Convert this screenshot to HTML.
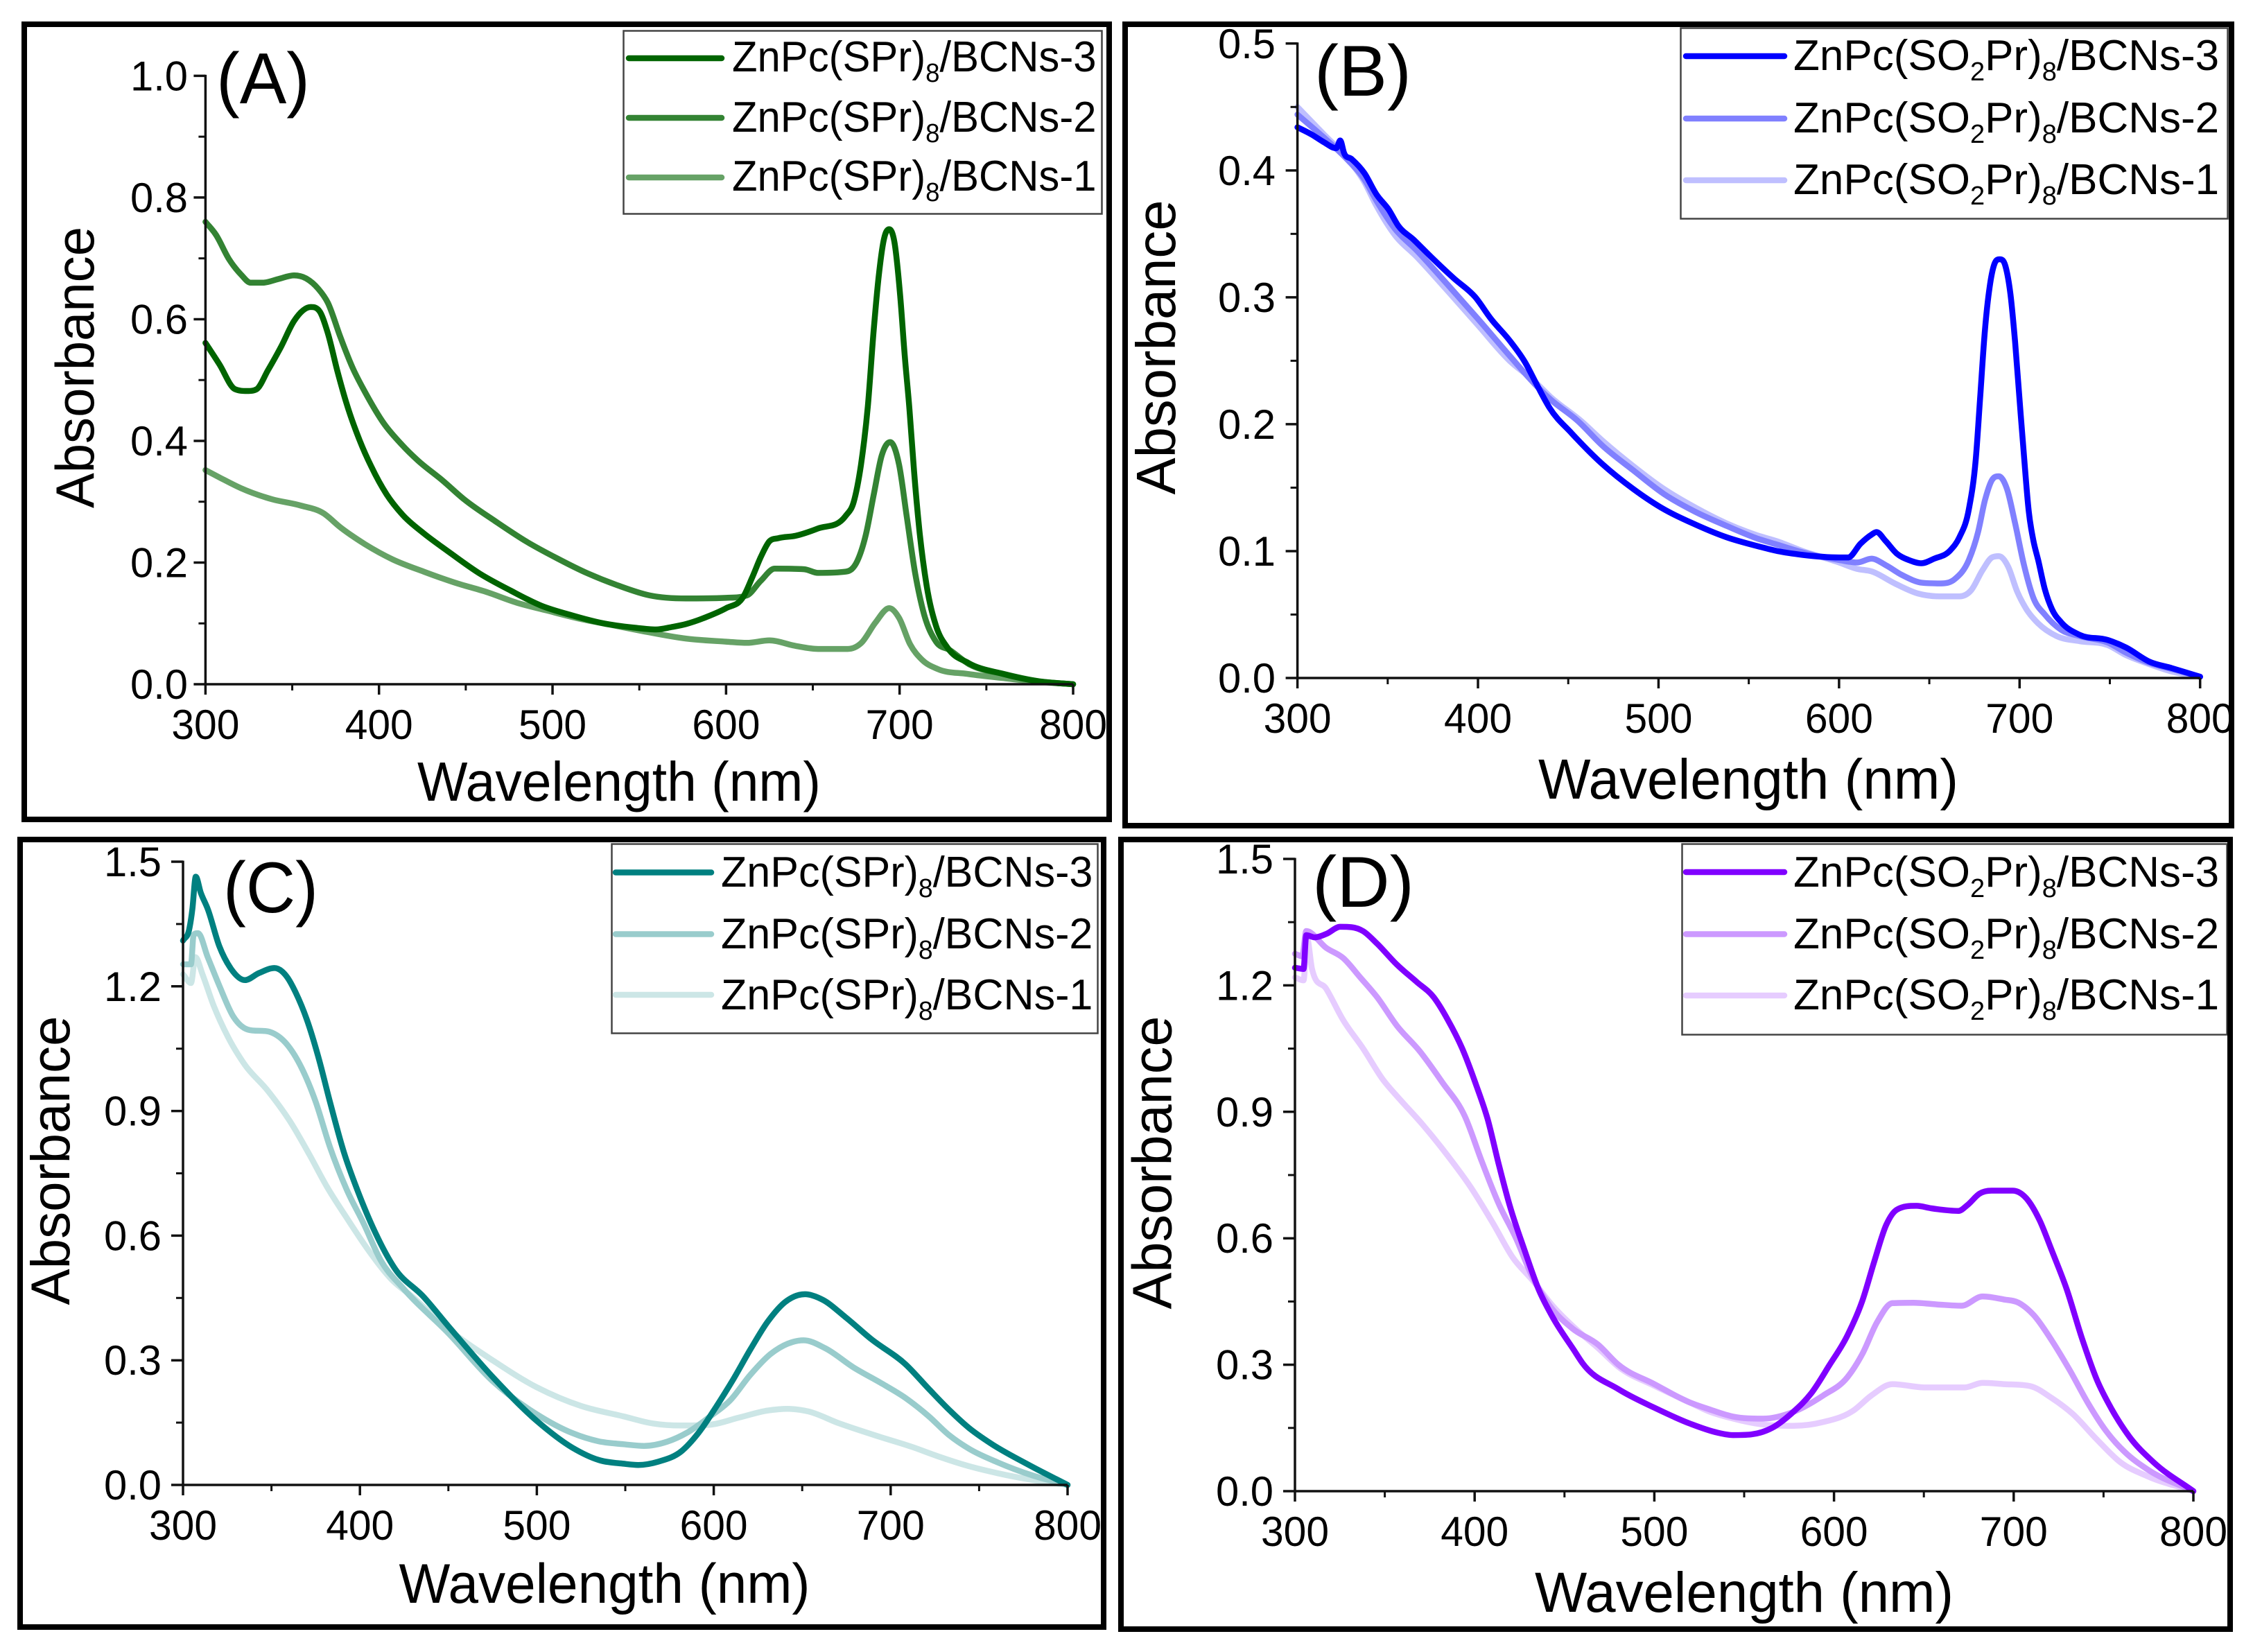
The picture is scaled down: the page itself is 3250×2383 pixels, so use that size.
<!DOCTYPE html>
<html><head><meta charset="utf-8"><title>Absorbance spectra</title>
<style>
html,body{margin:0;padding:0;background:#fff}
svg{display:block}
text{font-family:"Liberation Sans",sans-serif;fill:#000}
</style></head>
<body>
<svg id="fig" xmlns="http://www.w3.org/2000/svg" width="3250" height="2383" viewBox="0 0 3250 2383">
<rect width="3250" height="2383" fill="#fff"/>
<g id="plots"></g>

<g>
<text x="312" y="149" font-size="104" textLength="135" lengthAdjust="spacingAndGlyphs">(A)</text>
<text x="893" y="1155" font-size="80" text-anchor="middle" textLength="582" lengthAdjust="spacingAndGlyphs">Wavelength (nm)</text>
<text transform="translate(135 530) rotate(-90)" font-size="78" text-anchor="middle" textLength="406" lengthAdjust="spacingAndGlyphs">Absorbance</text>
<rect x="899.5" y="44.5" width="690" height="264" fill="#fff" stroke="#444" stroke-width="2.5"/>
<line x1="907" x2="1041" y1="84" y2="84" stroke="#006400" stroke-width="8.5" stroke-linecap="round"/>
<line x1="907" x2="1041" y1="170" y2="170" stroke="#338333" stroke-width="8.5" stroke-linecap="round"/>
<line x1="907" x2="1041" y1="256" y2="256" stroke="#66a266" stroke-width="8.5" stroke-linecap="round"/>
<text transform="translate(1056 103) scale(.965 1)" font-size="62">ZnPc(SPr)<tspan font-size="38" dy="15">8</tspan><tspan dy="-15">/BCNs-3</tspan></text>
<text transform="translate(1056 190) scale(.965 1)" font-size="62">ZnPc(SPr)<tspan font-size="38" dy="15">8</tspan><tspan dy="-15">/BCNs-2</tspan></text>
<text transform="translate(1056 275) scale(.965 1)" font-size="62">ZnPc(SPr)<tspan font-size="38" dy="15">8</tspan><tspan dy="-15">/BCNs-1</tspan></text>
</g>

<g>
<text x="1896" y="138" font-size="104" textLength="140" lengthAdjust="spacingAndGlyphs">(B)</text>
<text x="2522" y="1152" font-size="82" text-anchor="middle" textLength="606" lengthAdjust="spacingAndGlyphs">Wavelength (nm)</text>
<text transform="translate(1695 501) rotate(-90)" font-size="80" text-anchor="middle" textLength="425" lengthAdjust="spacingAndGlyphs">Absorbance</text>
<rect x="2424.5" y="40.5" width="789" height="275" fill="#fff" stroke="#444" stroke-width="2.5"/>
<line x1="2432" x2="2574" y1="81" y2="81" stroke="#0000ff" stroke-width="8.5" stroke-linecap="round"/>
<line x1="2432" x2="2574" y1="171" y2="171" stroke="#8080ff" stroke-width="8.5" stroke-linecap="round"/>
<line x1="2432" x2="2574" y1="260" y2="260" stroke="#bfbfff" stroke-width="8.5" stroke-linecap="round"/>
<text x="2587" y="101" font-size="62">ZnPc(SO<tspan font-size="38" dy="15">2</tspan><tspan dy="-15">Pr)</tspan><tspan font-size="38" dy="15">8</tspan><tspan dy="-15">/BCNs-3</tspan></text>
<text x="2587" y="191" font-size="62">ZnPc(SO<tspan font-size="38" dy="15">2</tspan><tspan dy="-15">Pr)</tspan><tspan font-size="38" dy="15">8</tspan><tspan dy="-15">/BCNs-2</tspan></text>
<text x="2587" y="280" font-size="62">ZnPc(SO<tspan font-size="38" dy="15">2</tspan><tspan dy="-15">Pr)</tspan><tspan font-size="38" dy="15">8</tspan><tspan dy="-15">/BCNs-1</tspan></text>
</g>

<g>
<text x="322" y="1316" font-size="104" textLength="137" lengthAdjust="spacingAndGlyphs">(C)</text>
<text x="872" y="2312" font-size="81" text-anchor="middle" textLength="593" lengthAdjust="spacingAndGlyphs">Wavelength (nm)</text>
<text transform="translate(100 1674) rotate(-90)" font-size="79" text-anchor="middle" textLength="417" lengthAdjust="spacingAndGlyphs">Absorbance</text>
<rect x="882.5" y="1217.5" width="701" height="273" fill="#fff" stroke="#444" stroke-width="2.5"/>
<line x1="888" x2="1026" y1="1258.5" y2="1258.5" stroke="#008080" stroke-width="8.5" stroke-linecap="round"/>
<line x1="888" x2="1026" y1="1347.5" y2="1347.5" stroke="#99cccc" stroke-width="8.5" stroke-linecap="round"/>
<line x1="888" x2="1026" y1="1435" y2="1435" stroke="#cce6e6" stroke-width="8.5" stroke-linecap="round"/>
<text transform="translate(1040 1279) scale(.985 1)" font-size="62">ZnPc(SPr)<tspan font-size="38" dy="15">8</tspan><tspan dy="-15">/BCNs-3</tspan></text>
<text transform="translate(1040 1368) scale(.985 1)" font-size="62">ZnPc(SPr)<tspan font-size="38" dy="15">8</tspan><tspan dy="-15">/BCNs-2</tspan></text>
<text transform="translate(1040 1456) scale(.985 1)" font-size="62">ZnPc(SPr)<tspan font-size="38" dy="15">8</tspan><tspan dy="-15">/BCNs-1</tspan></text>
</g>

<g>
<text x="1893" y="1308" font-size="104" textLength="147" lengthAdjust="spacingAndGlyphs">(D)</text>
<text x="2516" y="2325" font-size="82" text-anchor="middle" textLength="604" lengthAdjust="spacingAndGlyphs">Wavelength (nm)</text>
<text transform="translate(1689.5 1677) rotate(-90)" font-size="80" text-anchor="middle" textLength="423" lengthAdjust="spacingAndGlyphs">Absorbance</text>
<rect x="2426.5" y="1217.5" width="786" height="275" fill="#fff" stroke="#444" stroke-width="2.5"/>
<line x1="2432" x2="2574" y1="1258" y2="1258" stroke="#8000ff" stroke-width="8.5" stroke-linecap="round"/>
<line x1="2432" x2="2574" y1="1347.5" y2="1347.5" stroke="#cc99ff" stroke-width="8.5" stroke-linecap="round"/>
<line x1="2432" x2="2574" y1="1436" y2="1436" stroke="#e6ccff" stroke-width="8.5" stroke-linecap="round"/>
<text x="2587" y="1279" font-size="62">ZnPc(SO<tspan font-size="38" dy="15">2</tspan><tspan dy="-15">Pr)</tspan><tspan font-size="38" dy="15">8</tspan><tspan dy="-15">/BCNs-3</tspan></text>
<text x="2587" y="1368" font-size="62">ZnPc(SO<tspan font-size="38" dy="15">2</tspan><tspan dy="-15">Pr)</tspan><tspan font-size="38" dy="15">8</tspan><tspan dy="-15">/BCNs-2</tspan></text>
<text x="2587" y="1456" font-size="62">ZnPc(SO<tspan font-size="38" dy="15">2</tspan><tspan dy="-15">Pr)</tspan><tspan font-size="38" dy="15">8</tspan><tspan dy="-15">/BCNs-1</tspan></text>
</g>

<rect x="35" y="35" width="1565" height="1147" fill="none" stroke="#000" stroke-width="8"/>
<rect x="1623" y="35" width="1596" height="1156" fill="none" stroke="#000" stroke-width="8"/>
<rect x="29" y="1211" width="1563" height="1136" fill="none" stroke="#000" stroke-width="8"/>
<rect x="1617" y="1211" width="1600" height="1139" fill="none" stroke="#000" stroke-width="8"/>
</svg>

<script>
// Tick labels
const xTickLabels = ['300','400','500','600','700','800'];
const yTickLabelsA = ['0.0','0.2','0.4','0.6','0.8','1.0'];
const yTickLabelsB = ['0.0','0.1','0.2','0.3','0.4','0.5'];
const yTickLabelsC = ['0.0','0.3','0.6','0.9','1.2','1.5'];
const yTickLabelsD = ['0.0','0.3','0.6','0.9','1.2','1.5'];

// Panel A
const nmA3 = [300,308,317,324,329.5,335.8,343.8,351,360.7,366,370.5,376,381,388.4,395.5,404.4,413.4,425.8,440,458,475.8,493.6,511.5,529.3,547,559.6,568.6,577,590,600,610,615,620,625,630,640,653,669,673.6,677.7,681.7,685,688,691,694,697,700.3,703,705.7,708.3,711.6,715.6,721,727.6,739.6,759.6,779.5,800];
const absA3 = [.561,.526,.485,.482,.485,.515,.556,.597,.62,.612,.577,.515,.464,.404,.358,.312,.279,.248,.218,.182,.154,.129,.113,.1,.093,.09,.094,.099,.112,.125,.144,.175,.209,.235,.24,.244,.256,.277,.3,.36,.457,.579,.671,.732,.748,.727,.64,.539,.452,.351,.248,.162,.096,.06,.035,.017,.005,0];
const nmA2 = [300,306,313.5,320.6,326,333,342,351,358,365,370.5,377.7,384.8,392,402.7,413.4,422.3,436.6,449,467,484.7,502.6,520.4,538,556,577,600,612,620,628,645,653,669,675.7,680.4,685,689.7,694.6,699.7,704.2,709,714,721,729,740,760,780,800];
const absA2 = [.76,.739,.699,.673,.66,.66,.666,.672,.667,.65,.627,.571,.52,.48,.429,.393,.368,.335,.304,.268,.235,.207,.182,.162,.146,.141,.142,.146,.17,.19,.189,.183,.185,.203,.244,.31,.376,.398,.361,.274,.182,.116,.07,.056,.033,.017,.005,0];
const nmA1 = [300,308,320.6,338.4,354.5,368,377.7,392,408,425.8,443.7,461.5,479.4,497,515,533,550.7,577,600,612,625,640,653,670,678,686,694,699.7,706,713,722,739,760,780,800];
const absA1 = [.352,.34,.322,.304,.294,.281,.258,.23,.205,.185,.167,.152,.134,.121,.108,.098,.088,.075,.07,.068,.072,.063,.058,.058,.068,.101,.125,.109,.066,.04,.025,.017,.01,.004,0];

// Panel B
const nmB3 = [300,307.8,314.6,321.5,323.7,325.8,330,337,343.8,350.6,355.8,364.3,374.6,386.6,398.6,407.2,417.5,426,433,439.8,451.8,468.9,486,503,520.3,537.5,554.6,566,580,600,605,612,618,620.7,625.8,632,638.6,645.6,652.7,661.6,666.7,671.9,675.7,678.3,680.8,683.4,686,689,692.3,694.9,697.5,700,702.6,705.1,707.7,710.3,714,718,723,733.3,748.7,759,771.7,784.5,800];
const absB3 = [.434,.4284,.4223,.4175,.4236,.4138,.409,.398,.381,.369,.3565,.3455,.331,.315,.3,.283,.266,.249,.23,.2125,.193,.1686,.149,.133,.121,.111,.104,.1,.097,.095,.095,.106,.113,.115,.108,.098,.093,.0904,.094,.1006,.111,.133,.172,.224,.274,.308,.326,.33,.324,.303,.265,.219,.172,.131,.108,.093,.07,.054,.044,.034,.03,.024,.013,.0077,.001];
const nmB2 = [300,314.6,326.6,337,343.8,354,366,383.2,400,417.5,431.2,439.8,455.2,469,486,503,520.3,537.5,554.6,566,580,600,610,618,625.8,634.7,646.3,656.5,664.2,671.9,677,680.8,684.7,688.5,693,697.5,702.6,707.7,714,723,733.3,748.7,759,771.7,784.5,800];
const absB2 = [.444,.426,.41,.393,.376,.354,.337,.31,.283,.254,.232,.22,.2027,.183,.1637,.145,.131,.12,.11,.105,.099,.093,.091,.094,.089,.0813,.075,.0745,.078,.093,.115,.14,.156,.159,.149,.122,.088,.063,.05,.038,.033,.028,.02,.012,.007,.001];
const nmB1 = [300,314.6,326.6,337,343.8,354,366,383.2,400,417.5,431.2,439.8,457,469,486,503,520.3,537.5,554.6,566,580,600,610,618,630.9,643.7,656.5,666.7,673.1,679.5,684.7,688.5,693.6,698.7,703.9,710.3,720.5,733.3,748.7,759,771.7,784.5,800];
const absB1 = [.45,.4285,.411,.391,.372,.349,.332,.305,.278,.25,.234,.222,.2027,.187,.167,.149,.1344,.122,.1125,.1076,.1,.091,.086,.084,.0745,.0666,.0643,.0643,.069,.085,.095,.096,.088,.068,.054,.043,.033,.029,.026,.018,.011,.005,.001];

// Panel C
const nmC3 = [300,303.7,305.3,307.2,310,314,320.5,327,335,343,351.7,358.9,363.7,370,376.5,383,391,399,408.5,419.7,435.7,450,475,500,520,535,549,557.3,568.7,581.7,591.5,601.2,611,620.7,630.5,640.3,651.6,661.4,674.4,689,708.5,721.6,733,744.3,757.3,776.8,800];
const absC3 = [1.31,1.341,1.386,1.464,1.426,1.386,1.297,1.243,1.215,1.232,1.244,1.222,1.185,1.12,1.03,.923,.8,.705,.609,.521,.454,.382,.26,.154,.09,.06,.051,.048,.056,.081,.126,.187,.254,.326,.393,.44,.459,.446,.404,.351,.29,.231,.181,.137,.098,.051,0];
const nmC2 = [300,304.5,306,308.5,314,320.5,328.5,336.5,349.3,359,367,375,383,392.5,402,411.7,424.5,450,475,500,520,535,549,560.6,573.6,585,598,609.4,620.7,632.1,641.9,650.8,663,679.3,695.5,708.5,721.6,733,744.3,760.6,780,800];
const absC2 = [1.253,1.253,1.324,1.328,1.27,1.202,1.127,1.096,1.09,1.059,1.004,.922,.814,.711,.63,.541,.473,.365,.25,.17,.125,.105,.098,.094,.104,.126,.165,.204,.265,.315,.34,.348,.329,.282,.243,.209,.165,.12,.087,.054,.023,0];
const nmC1 = [300,304.5,307,311,317.3,325.3,335,347.7,360.5,371.7,381.3,392.5,405.3,418,429.3,450,475,500,525,549,565.5,581.7,598,614.2,630.5,641.9,653.3,671,690.7,711.8,728,744.3,760.6,780,800];
const absC1 = [1.229,1.208,1.27,1.229,1.154,1.079,1.011,.95,.875,.793,.718,.643,.562,.494,.454,.375,.3,.235,.19,.165,.148,.143,.145,.162,.179,.183,.177,.148,.12,.092,.067,.045,.028,.012,0];

// Panel D
const nmD3 = [300,304.8,306.3,311,317.4,325.2,331.5,337.8,345.7,356.8,367.8,377.2,385.1,393,400.9,407.2,413.4,419.7,427.6,435.5,443.4,455.2,460,480,500,520,535,543.8,553.8,565.5,577.3,587.3,597.3,607.4,615.7,622.4,629.1,635,645.9,654.2,669.3,674.3,681,687.7,699.4,707,714.4,721.1,729.5,737.9,746.2,754.6,764.6,778,800];
const absD3 = [1.242,1.239,1.319,1.314,1.322,1.339,1.338,1.329,1.299,1.249,1.208,1.172,1.118,1.051,.963,.883,.776,.675,.574,.48,.413,.335,.304,.242,.198,.16,.139,.133,.1346,.15,.188,.232,.298,.369,.451,.545,.632,.668,.677,.671,.665,.679,.706,.713,.713,.695,.643,.572,.479,.364,.265,.194,.128,.068,0];
const nmD2 = [300,304,306.3,317.4,326.8,336.3,345.7,356.8,369.4,382,394.5,404,413.4,422.9,432.3,441.8,454.4,468.6,480,500,520,530,543.8,560.5,577.3,594,607.4,615.7,624.1,632.5,644.2,657.6,671,682.7,694.4,702.7,711.1,721.1,731.2,741.2,751.2,761.3,774.7,800];
const absD2 = [1.275,1.269,1.329,1.289,1.265,1.219,1.172,1.104,1.044,.97,.89,.782,.682,.601,.507,.44,.386,.348,.3,.254,.21,.195,.177,.172,.188,.227,.27,.325,.402,.446,.447,.443,.44,.462,.455,.447,.418,.358,.287,.21,.144,.095,.051,0];
const nmD1 = [300,304.8,306.7,309.5,317.4,326.8,337.8,348.9,358.3,371,385,397.7,410.3,421.3,432.3,443.4,456,468.6,480,500,520,530,544,560.5,577.3,594,610.7,620.8,632.5,650.9,672.6,682.7,694.4,709.4,721.1,732.9,746.2,759.6,774.7,800];
const absD1 = [1.219,1.212,1.312,1.239,1.192,1.118,1.051,.977,.93,.87,.796,.722,.635,.554,.5,.44,.386,.34,.295,.25,.21,.19,.172,.158,.155,.164,.191,.227,.254,.246,.246,.257,.254,.249,.221,.183,.123,.068,.035,0];

const NS = 'http://www.w3.org/2000/svg';
const plots = document.getElementById('plots');

function node(parent, tag, attrs) {
  const e = document.createElementNS(NS, tag);
  for (const k in attrs) e.setAttribute(k, attrs[k]);
  parent.appendChild(e);
  return e;
}

// Smooth cubic through the points: three-point tangents, limited to prevent overshoot
function curvePath(xs, ys) {
  const n = Math.min(xs.length, ys.length);
  const sl = [];
  const hs = [];
  for (let i = 0; i < n - 1; i++) {
    hs.push(xs[i + 1] - xs[i]);
    sl.push((ys[i + 1] - ys[i]) / hs[i]);
  }
  const m = [sl[0]];
  for (let i = 1; i < n - 1; i++) {
    if (sl[i - 1] * sl[i] <= 0) { m.push(0); continue; }
    const t = (hs[i] * sl[i - 1] + hs[i - 1] * sl[i]) / (hs[i - 1] + hs[i]);
    const lim = 3 * Math.min(Math.abs(sl[i - 1]), Math.abs(sl[i]));
    m.push(Math.sign(t) * Math.min(Math.abs(t), lim));
  }
  m.push(sl[n - 2]);
  let d = 'M' + xs[0].toFixed(1) + ' ' + ys[0].toFixed(1);
  for (let i = 0; i < n - 1; i++) {
    const h = hs[i] / 3;
    d += 'C' + (xs[i] + h).toFixed(1) + ' ' + (ys[i] + m[i] * h).toFixed(1) + ' ' +
         (xs[i + 1] - h).toFixed(1) + ' ' + (ys[i + 1] - m[i + 1] * h).toFixed(1) + ' ' +
         xs[i + 1].toFixed(1) + ' ' + ys[i + 1].toFixed(1);
  }
  return d;
}

function drawPanel(id, x300, x800, y0, yTop, yMax, yLabels, yLabelRight, series) {
  const sx = v => x300 + (v - 300) * (x800 - x300) / 500;
  const sy = v => y0 - v * (y0 - yTop) / yMax;
  const g = node(plots, 'g', {});
  
  

  series.forEach(s => {
    const p = node(g, 'path', { d: curvePath(s.nm.map(sx), s.abs.map(sy)), fill: 'none', stroke: s.color, 'stroke-width': 8.5, 'stroke-linejoin': 'round', 'stroke-linecap': 'round' });
    
    
  });

  const axisX = node(g, 'line', { x1: sx(300), x2: sx(800), y1: y0, y2: y0, stroke: '#111', 'stroke-width': 3.5 });
  
  
  const axisY = node(g, 'line', { x1: x300, x2: x300, y1: y0 + 1.5, y2: sy(yMax) - 1.5, stroke: '#111', 'stroke-width': 3.5 });
  
  

  xTickLabels.forEach((lab, i) => {
    const v = Number(lab);
    const t = node(g, 'line', { x1: sx(v), x2: sx(v), y1: y0, y2: y0 + 15, stroke: '#111', 'stroke-width': 3.5 });
    
    
    const txt = node(g, 'text', { x: sx(v), y: y0 + 79, 'font-size': 60, 'text-anchor': 'middle', textLength: 98, lengthAdjust: 'spacingAndGlyphs' });
    txt.textContent = lab;
    
    
    if (i < xTickLabels.length - 1) {
      const mt = node(g, 'line', { x1: sx(v + 50), x2: sx(v + 50), y1: y0, y2: y0 + 9, stroke: '#111', 'stroke-width': 3 });
      
      
    }
  });

  const yStep = Number(yLabels[1]) - Number(yLabels[0]);
  yLabels.forEach((lab, i) => {
    const v = Number(lab);
    const t = node(g, 'line', { x1: x300 - 17, x2: x300, y1: sy(v), y2: sy(v), stroke: '#111', 'stroke-width': 3.5 });
    
    
    const txt = node(g, 'text', { x: yLabelRight, y: sy(v) + 21, 'font-size': 60, 'text-anchor': 'end', textLength: 83, lengthAdjust: 'spacingAndGlyphs' });
    txt.textContent = lab;
    
    
    if (i < yLabels.length - 1) {
      const mt = node(g, 'line', { x1: x300 - 10, x2: x300, y1: sy(v + yStep / 2), y2: sy(v + yStep / 2), stroke: '#111', 'stroke-width': 3 });
      
      
    }
  });
}

drawPanel('a', 296.4, 1548, 987, 109.4, 1.0, yTickLabelsA, 271, [
  { rank: 1, nm: nmA1, abs: absA1, color: '#66a266' },
  { rank: 2, nm: nmA2, abs: absA2, color: '#338333' },
  { rank: 3, nm: nmA3, abs: absA3, color: '#006400' }
]);
drawPanel('b', 1871.6, 3173.7, 978, 62.8, 0.5, yTickLabelsB, 1840, [
  { rank: 1, nm: nmB1, abs: absB1, color: '#bfbfff' },
  { rank: 2, nm: nmB2, abs: absB2, color: '#8080ff' },
  { rank: 3, nm: nmB3, abs: absB3, color: '#0000ff' }
]);
drawPanel('c', 264, 1540, 2142, 1243, 1.5, yTickLabelsC, 233, [
  { rank: 1, nm: nmC1, abs: absC1, color: '#cce6e6' },
  { rank: 2, nm: nmC2, abs: absC2, color: '#99cccc' },
  { rank: 3, nm: nmC3, abs: absC3, color: '#008080' }
]);
drawPanel('d', 1868, 3164, 2151, 1239, 1.5, yTickLabelsD, 1837, [
  { rank: 1, nm: nmD1, abs: absD1, color: '#e6ccff' },
  { rank: 2, nm: nmD2, abs: absD2, color: '#cc99ff' },
  { rank: 3, nm: nmD3, abs: absD3, color: '#8000ff' }
]);
</script>
</body></html>
